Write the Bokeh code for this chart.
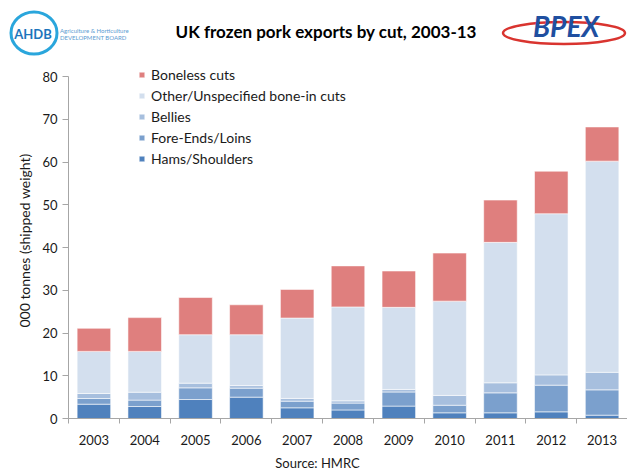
from bokeh.plotting import figure
from bokeh.layouts import column
from bokeh.models import ColumnDataSource, Range1d, FixedTicker, Legend, Div
from bokeh.core.properties import value
from bokeh.embed import file_html
from bokeh.resources import INLINE

# ---------------- data ----------------
years = [2003, 2004, 2005, 2006, 2007, 2008, 2009, 2010, 2011, 2012, 2013]
hams = [3.35, 2.8, 4.44, 5.0, 2.5, 2.0, 2.9, 1.33, 1.33, 1.56, 0.78]
fore_ends = [1.33, 1.5, 2.73, 2.1, 1.55, 1.6, 3.3, 1.77, 4.67, 6.24, 5.92]
bellies = [1.17, 1.85, 1.1, 0.6, 0.65, 0.53, 0.6, 2.3, 2.35, 2.4, 4.1]
other = [9.85, 9.55, 11.33, 11.9, 18.8, 21.97, 19.2, 22.05, 32.85, 37.7, 49.4]
boneless = [5.4, 7.9, 8.7, 7.0, 6.7, 9.6, 8.5, 11.25, 9.9, 9.95, 8.0]

series_keys = ["hams", "fore", "bellies", "other", "boneless"]
series_names = ["Hams/Shoulders", "Fore-Ends/Loins", "Bellies",
                "Other/Unspecified bone-in cuts", "Boneless cuts"]
colors = ["#4F81BD", "#7BA0CD", "#A7BFDE", "#D3DFEE", "#DF7F7E"]
y_ticks = [0, 10, 20, 30, 40, 50, 60, 70, 80]
y_max = 80

title_text = "UK frozen pork exports by cut, 2003-13"
y_label = "000 tonnes (shipped weight)"
source_text = "Source: HMRC"

FONT = "Lato"
TXT = "#1a1a1a"
AXIS = "#A6A6A6"
W = 627
LEFT = 68

# ---------------- header (title + logos), plain HTML/SVG text ----------------
F = "font-family: Lato, sans-serif;"
header_html = f"""
<svg width="{W}" height="60" xmlns="http://www.w3.org/2000/svg" style="display:block">
  <ellipse cx="34" cy="33" rx="23" ry="21" fill="none" stroke="#2AA6DC" stroke-width="3"/>
  <text x="33" y="38.5" style="{F} font-weight: bold; font-size: 13px;" fill="#1C75BC"
        text-anchor="middle">AHDB</text>
  <text x="60" y="33" style="{F} font-size: 6px;" fill="#5C9BD1">Agriculture &amp; Horticulture</text>
  <text x="60" y="40" style="{F} font-size: 6px;" fill="#5C9BD1">DEVELOPMENT BOARD</text>
  <text x="326" y="38" style="{F} font-weight: bold; font-size: 17px;" fill="#000000"
        text-anchor="middle">{title_text}</text>
  <ellipse cx="564" cy="33" rx="61" ry="11" fill="none" stroke="#D9342F" stroke-width="2.5"/>
  <text x="566" y="37" style="{F} font-weight: bold; font-style: italic; font-size: 28px;"
        fill="#1F4FA0" text-anchor="middle">BPEX</text>
</svg>
"""
hdr = Div(text=header_html, width=W, height=60, margin=0)

# ---------------- main chart ----------------
src = ColumnDataSource(dict(year=years, hams=hams, fore=fore_ends, bellies=bellies,
                            other=other, boneless=boneless))

# frame starts 14 px above the "80" tick so that the legend fits inside it
px_per_unit = 342 / y_max
p = figure(width=W, height=392, x_range=Range1d(years[0] - 0.5, years[-1] + 0.5),
           y_range=Range1d(0, y_max + 14 / px_per_unit), toolbar_location=None,
           output_backend="svg",
           min_border_left=LEFT, min_border_right=0, min_border_top=2,
           min_border_bottom=34)
p.outline_line_color = None
p.xgrid.visible = False
p.ygrid.visible = False

renderers = p.vbar_stack(series_keys, x="year", width=0.66, color=colors, source=src,
                         line_color="white", line_width=0.8, line_alpha=0.7)

legend = Legend(items=[(name, [r]) for name, r in reversed(list(zip(series_names, renderers)))],
                location=(70, 249), orientation="vertical")
legend.padding = 0
legend.margin = 0
legend.spacing = 0
legend.glyph_width = 7
legend.glyph_height = 7
legend.label_height = 21
legend.label_standoff = 6
legend.border_line_color = None
legend.background_fill_alpha = 0
legend.label_text_font = FONT
legend.label_text_font_size = "14px"
legend.label_text_color = TXT
p.add_layout(legend, "center")

# x axis: labels at category centres, ticks between categories
xa = p.xaxis[0]
xa.ticker = FixedTicker(ticks=years, minor_ticks=[y - 0.5 for y in years] + [years[-1] + 0.5])
xa.major_tick_out = 0
xa.major_tick_in = 0
xa.minor_tick_out = 5
xa.minor_tick_in = 0
xa.minor_tick_line_color = AXIS
xa.axis_line_color = AXIS
xa.major_label_standoff = 11
xa.major_label_text_font = FONT
xa.major_label_text_font_size = "13px"
xa.major_label_text_color = TXT

ya = p.yaxis[0]
ya.bounds = (0, y_max)
ya.ticker = FixedTicker(ticks=y_ticks, minor_ticks=[])
ya.major_tick_out = 6
ya.major_tick_in = 0
ya.major_tick_line_color = AXIS
ya.axis_line_color = AXIS
ya.major_label_standoff = 5
ya.major_label_text_font = FONT
ya.major_label_text_font_size = "13px"
ya.major_label_text_color = TXT
ya.axis_label = y_label
ya.axis_label_text_font = FONT
ya.axis_label_text_font_size = "14px"
ya.axis_label_text_font_style = "normal"
ya.axis_label_text_color = TXT
ya.axis_label_standoff = 6

# ---------------- footer ----------------
# the column aligns this frame with the chart frame (LEFT..W), so data x == page x
ftr = figure(width=W, height=18, x_range=Range1d(LEFT, W), y_range=Range1d(18, 0),
             x_axis_type=None, y_axis_type=None, toolbar_location=None,
             output_backend="svg", min_border=0)
ftr.outline_line_color = None
ftr.xgrid.visible = False
ftr.ygrid.visible = False
ftr.text(x=[317], y=[10], text=[source_text], text_font=value(FONT),
         text_font_size="13px", text_color=TXT, text_align="center",
         text_baseline="middle")

layout = column(hdr, p, ftr, spacing=0)
open("out.html", "w").write(file_html(layout, INLINE))
